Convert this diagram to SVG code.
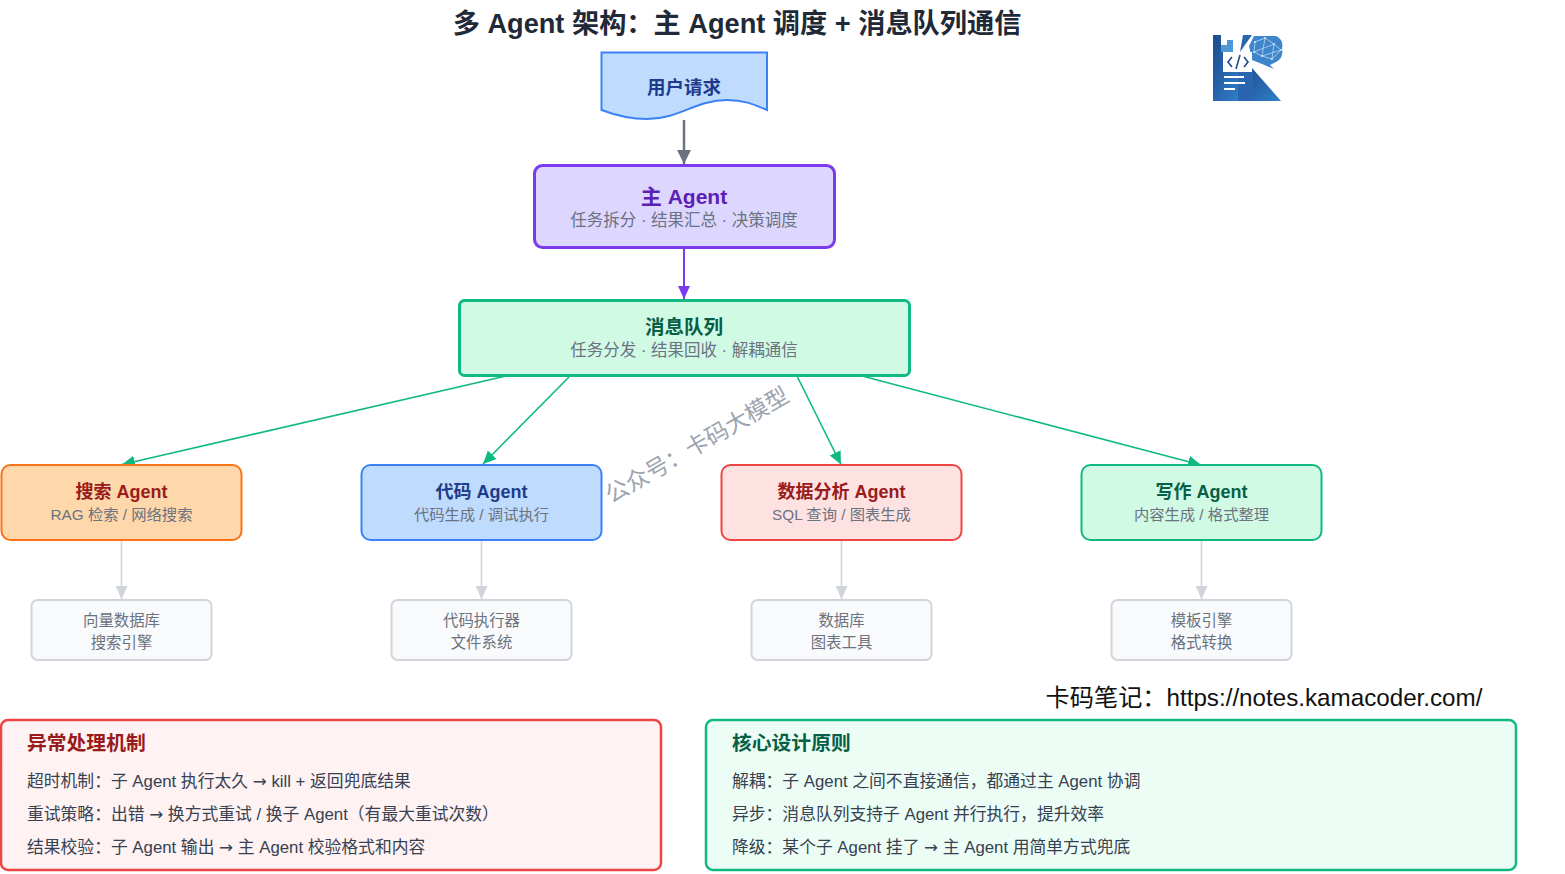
<svg xmlns="http://www.w3.org/2000/svg" width="1565" height="874" viewBox="0 0 1565 874">
<defs>
<style>
text{font-family:"Liberation Sans","Noto Sans CJK SC",sans-serif;text-anchor:middle}
.title{font-size:27.200px;font-weight:700;fill:#1f2937}
.h2{font-size:18px;font-weight:700}
.sub{font-size:15.300px;fill:#6b7280}
.sub2{font-size:16.500px;fill:#6b7280}
.tool{font-size:15.400px;fill:#6b7280}
.box{stroke-width:2}
.toolbox{fill:#f9fafb;stroke:#d1d5db;stroke-width:2}
.ph{font-size:19.800px;font-weight:700;text-anchor:start}
.pt{font-size:16.800px;fill:#374151;text-anchor:start}
.ar{font-family:"DejaVu Sans",sans-serif}
.g{stroke:#10b981;stroke-width:1.600;fill:none}
.t{stroke:#d1d5db;stroke-width:1.600;fill:none}
</style>
<marker id="ag" markerUnits="userSpaceOnUse" markerWidth="16" markerHeight="14" refX="13" refY="6" orient="auto"><path d="M0 0L13 6L0 12z" fill="#10b981"/></marker>
<marker id="at" markerUnits="userSpaceOnUse" markerWidth="16" markerHeight="14" refX="13" refY="6" orient="auto"><path d="M0 0L13 6L0 12z" fill="#d1d5db"/></marker>
<marker id="ap" markerUnits="userSpaceOnUse" markerWidth="16" markerHeight="14" refX="13" refY="6" orient="auto"><path d="M0 0L13 6L0 12z" fill="#7c3aed"/></marker>
<marker id="ay" markerUnits="userSpaceOnUse" markerWidth="18" markerHeight="16" refX="14" refY="7" orient="auto"><path d="M0 0L14 7L0 14z" fill="#6b7280"/></marker>
<linearGradient id="lg" x1="0" y1="0" x2="1" y2="1"><stop offset="0" stop-color="#1e4a8c"/><stop offset="1" stop-color="#2f7fc9"/></linearGradient>
</defs>
<rect width="1565" height="874" fill="#fff"/>
<text class="title" x="737" y="33">多 Agent 架构：主 Agent 调度 + 消息队列通信</text>

<g id="connectors">
<path d="M684 120V164" stroke="#6b7280" stroke-width="2.500" fill="none" marker-end="url(#ay)"/>
<path d="M684 248V299" stroke="#7c3aed" stroke-width="2" fill="none" marker-end="url(#ap)"/>
<path class="g" d="M506 376L122 464.500" marker-end="url(#ag)"/>
<path class="g" d="M570 376L483 464" marker-end="url(#ag)"/>
<path class="g" d="M797 376L841 464.500" marker-end="url(#ag)"/>
<path class="g" d="M862 376L1201 465" marker-end="url(#ag)"/>
<path class="t" d="M121.500 540V599" marker-end="url(#at)"/>
<path class="t" d="M481.500 540V599" marker-end="url(#at)"/>
<path class="t" d="M841.500 540V599" marker-end="url(#at)"/>
<path class="t" d="M1201.500 540V599" marker-end="url(#at)"/>
</g>

<g id="user-request">
<path d="M601.500 52.500H767V110C755 105 745 100 727 100C695 100 680 119 647 119C635 119 620 117 601.500 110Z" fill="#bfdbfe" stroke="#3b82f6" stroke-width="2"/>
<text x="684" y="94" font-size="18.500" font-weight="700" fill="#1e3a8a">用户请求</text>
</g>
<g id="main-agent">
<rect x="534.500" y="165.500" width="300" height="82" rx="8" fill="#ddd6fe" stroke="#7c3aed" stroke-width="3"/>
<text x="684" y="204" font-size="21" font-weight="700" fill="#5b21b6">主 Agent</text>
<text class="sub2" x="684" y="225.500">任务拆分 · 结果汇总 · 决策调度</text>
</g>
<g id="message-queue">
<rect x="459.500" y="300.500" width="450" height="75" rx="5" fill="#d1fae5" stroke="#10b981" stroke-width="3"/>
<text x="684" y="334" font-size="19.500" font-weight="700" fill="#065f46">消息队列</text>
<text class="sub2" x="684" y="355.500">任务分发 · 结果回收 · 解耦通信</text>
</g>

<g id="search-agent">
<rect class="box" x="1.500" y="465" width="240" height="75" rx="9" fill="#fed7aa" stroke="#f97316"/>
<text class="h2" x="121.500" y="498" fill="#991b1b">搜索 Agent</text>
<text class="sub" x="121.500" y="520">RAG 检索 / 网络搜索</text>
</g>
<g id="code-agent">
<rect class="box" x="361.500" y="465" width="240" height="75" rx="9" fill="#bfdbfe" stroke="#3b82f6"/>
<text class="h2" x="481.500" y="498" fill="#1e3a8a">代码 Agent</text>
<text class="sub" x="481.500" y="520">代码生成 / 调试执行</text>
</g>
<g id="data-agent">
<rect class="box" x="721.500" y="465" width="240" height="75" rx="9" fill="#fee2e2" stroke="#ef4444"/>
<text class="h2" x="841.500" y="498" fill="#991b1b">数据分析 Agent</text>
<text class="sub" x="841.500" y="520">SQL 查询 / 图表生成</text>
</g>
<g id="write-agent">
<rect class="box" x="1081.500" y="465" width="240" height="75" rx="9" fill="#d1fae5" stroke="#10b981"/>
<text class="h2" x="1201.500" y="498" fill="#065f46">写作 Agent</text>
<text class="sub" x="1201.500" y="520">内容生成 / 格式整理</text>
</g>

<g id="search-tools">
<rect class="toolbox" x="31.500" y="600" width="180" height="60" rx="6"/>
<text class="tool" x="121.500" y="625.500">向量数据库</text><text class="tool" x="121.500" y="647.500">搜索引擎</text>
</g>
<g id="code-tools">
<rect class="toolbox" x="391.500" y="600" width="180" height="60" rx="6"/>
<text class="tool" x="481.500" y="625.500">代码执行器</text><text class="tool" x="481.500" y="647.500">文件系统</text>
</g>
<g id="data-tools">
<rect class="toolbox" x="751.500" y="600" width="180" height="60" rx="6"/>
<text class="tool" x="841.500" y="625.500">数据库</text><text class="tool" x="841.500" y="647.500">图表工具</text>
</g>
<g id="write-tools">
<rect class="toolbox" x="1111.500" y="600" width="180" height="60" rx="6"/>
<text class="tool" x="1201.500" y="625.500">模板引擎</text><text class="tool" x="1201.500" y="647.500">格式转换</text>
</g>

<g id="exceptions">
<rect x="1" y="720" width="660" height="150" rx="7" fill="#fef2f2" stroke="#ef4444" stroke-width="2.500"/>
<text class="ph" x="27" y="750" fill="#991b1b">异常处理机制</text>
<text class="pt" x="27" y="787">超时机制：子 Agent 执行太久 <tspan class="ar">→</tspan> kill + 返回兜底结果</text>
<text class="pt" x="27" y="820">重试策略：出错 <tspan class="ar">→</tspan> 换方式重试 / 换子 Agent（有最大重试次数）</text>
<text class="pt" x="27" y="853">结果校验：子 Agent 输出 <tspan class="ar">→</tspan> 主 Agent 校验格式和内容</text>
</g>
<g id="principles">
<rect x="706" y="720" width="810" height="150" rx="7" fill="#ecfdf5" stroke="#10b981" stroke-width="2.500"/>
<text class="ph" x="732" y="750" fill="#065f46">核心设计原则</text>
<text class="pt" x="732" y="787">解耦：子 Agent 之间不直接通信，都通过主 Agent 协调</text>
<text class="pt" x="732" y="820">异步：消息队列支持子 Agent 并行执行，提升效率</text>
<text class="pt" x="732" y="853">降级：某个子 Agent 挂了 <tspan class="ar">→</tspan> 主 Agent 用简单方式兜底</text>
</g>

<text x="1264" y="706" font-size="24.200" fill="#111">卡码笔记：https://notes.kamacoder.com/</text>
<text transform="translate(701 452) rotate(-30)" font-size="23" fill="#9ca3af">公众号：卡码大模型</text>

<g id="logo">
<path d="M1213 35H1221V45H1227V40H1233V52H1238V101H1213Z" fill="url(#lg)"/>
<path d="M1221 45H1227V52H1221ZM1227 40H1233V52H1227Z" fill="#4f9ad6"/>
<path d="M1238 52H1243L1252 72H1238Z" fill="#1e4a8c"/>
<path d="M1243 35H1252L1240 52Z" fill="#2a66b0"/>
<path d="M1252 68L1281 101H1238V92L1252 72Z" fill="url(#lg)"/>
<path d="M1238 72H1253V101H1238Z" fill="#2a66b0"/>
<path d="M1249 46L1254 36H1276Q1284 40 1282 48Q1284 58 1276 62L1270 65L1274 69L1262 64L1252 60Z" fill="#3f85cc"/>
<path d="M1255 42L1265 38L1274 44L1281 50L1272 59L1262 56L1254 52ZM1265 38L1262 56M1274 44L1272 59M1254 52L1274 44M1262 56L1281 50" stroke="#b9d7f2" stroke-width="0.800" fill="none"/>
<g fill="#d5e7f7"><circle cx="1255" cy="42" r="1"/><circle cx="1265" cy="38" r="1"/><circle cx="1274" cy="44" r="1"/><circle cx="1281" cy="50" r="1"/><circle cx="1272" cy="59" r="1"/><circle cx="1262" cy="56" r="1"/><circle cx="1254" cy="52" r="1"/></g>
<rect x="1223" y="52" width="29" height="20" fill="#fff"/>
<path d="M1232 57L1228 62L1232 67M1244 57L1248 62L1244 67M1240 55L1236 69" stroke="#1e4a8c" stroke-width="1.600" fill="none"/>
<path d="M1224 77H1244M1224 83H1245M1224 89H1235" stroke="#fff" stroke-width="2" fill="none"/>
</g>
</svg>
